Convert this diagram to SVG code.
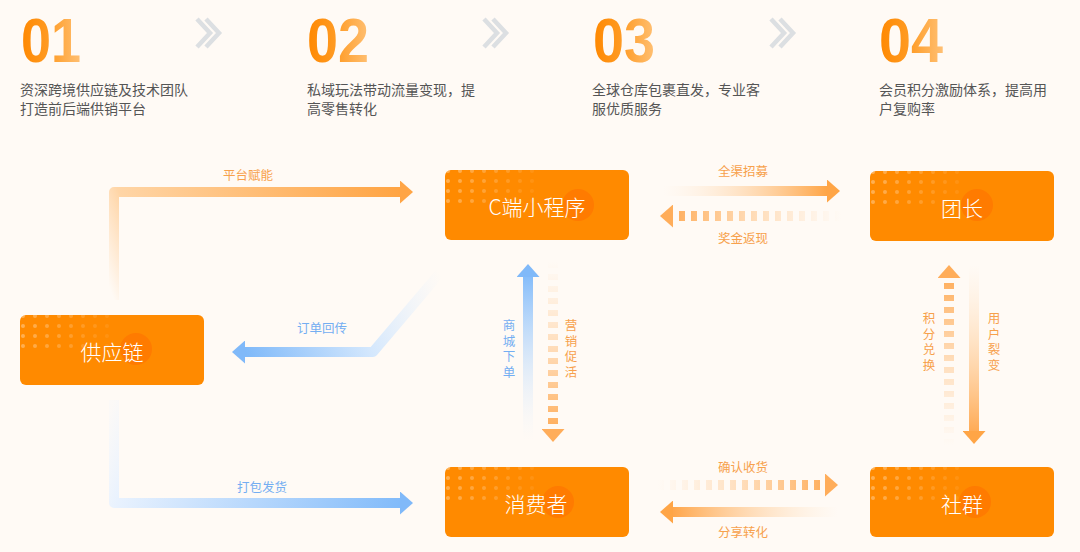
<svg xmlns="http://www.w3.org/2000/svg" xmlns:xlink="http://www.w3.org/1999/xlink" width="1080" height="552" viewBox="0 0 1080 552">
<defs>
<style>
.num{font-family:"Liberation Sans","Noto Sans CJK SC",sans-serif;font-weight:bold;font-size:63px;fill:url(#numGrad)}
.desc{font-family:"Noto Sans CJK SC","Noto Sans",sans-serif;font-size:14px;fill:#555}
.chev{fill:none;stroke:#dcdfe2;stroke-width:4.5;stroke-linejoin:miter}
.node{fill:#ff8a00}
.spot{fill:#ff7500;opacity:0.75}
.ntext{font-family:"Noto Sans CJK SC","Noto Sans",sans-serif;font-size:21px;font-weight:300;fill:#fff;text-anchor:middle}
.lbl{font-family:"Noto Sans CJK SC","Noto Sans",sans-serif;font-size:12.5px;text-anchor:middle}
.vert{writing-mode:vertical-rl;letter-spacing:3px}
.lo{fill:#f7a14c}
.lb{fill:#74aef2}
.shaft{fill:none;stroke-width:10;stroke-linejoin:round}
.dash{stroke-dasharray:6 6}
</style>
<linearGradient id="numGrad" x1="0" y1="0" x2="1" y2="0">
<stop offset="0" stop-color="#ff8800"/>
<stop offset="0.45" stop-color="#ff9a22"/>
<stop offset="1" stop-color="#ffc074"/>
</linearGradient>
<linearGradient id="dotFade" gradientUnits="userSpaceOnUse" x1="0" y1="0" x2="100" y2="20">
<stop offset="0" stop-color="#fff" stop-opacity="0.34"/>
<stop offset="1" stop-color="#fff" stop-opacity="0.03"/>
</linearGradient>
<clipPath id="dotClip"><rect x="0" y="0" width="184" height="70" rx="6"/></clipPath>
<g id="dots" clip-path="url(#dotClip)" fill="url(#dotFade)">
<circle cx="3" cy="1" r="2"/><circle cx="15" cy="1" r="2"/><circle cx="27" cy="1" r="2"/><circle cx="39" cy="1" r="2"/><circle cx="51" cy="1" r="2"/><circle cx="63" cy="1" r="2"/><circle cx="75" cy="1" r="2"/><circle cx="87" cy="1" r="2"/>
<circle cx="3" cy="11" r="2"/><circle cx="15" cy="11" r="2"/><circle cx="27" cy="11" r="2"/><circle cx="39" cy="11" r="2"/><circle cx="51" cy="11" r="2"/><circle cx="63" cy="11" r="2"/><circle cx="75" cy="11" r="2"/><circle cx="87" cy="11" r="2"/>
<circle cx="3" cy="21" r="2"/><circle cx="15" cy="21" r="2"/><circle cx="27" cy="21" r="2"/><circle cx="39" cy="21" r="2"/><circle cx="51" cy="21" r="2"/><circle cx="63" cy="21" r="2"/><circle cx="75" cy="21" r="2"/><circle cx="87" cy="21" r="2"/>
<circle cx="3" cy="31" r="2"/><circle cx="15" cy="31" r="2"/><circle cx="27" cy="31" r="2"/><circle cx="39" cy="31" r="2"/><circle cx="51" cy="31" r="2"/><circle cx="63" cy="31" r="2"/><circle cx="75" cy="31" r="2"/><circle cx="87" cy="31" r="2"/>
</g>
<marker id="headO" markerUnits="userSpaceOnUse" markerWidth="13" markerHeight="23" viewBox="0 0 13 23" refX="0" refY="11.5" orient="auto"><path d="M0,0 L13,11.5 L0,23Z" fill="#ffa546"/></marker>
<marker id="headOd" markerUnits="userSpaceOnUse" markerWidth="13" markerHeight="23" viewBox="0 0 13 23" refX="0" refY="11.5" orient="auto"><path d="M0,0 L13,11.5 L0,23Z" fill="#ffad5a"/></marker>
<marker id="headB" markerUnits="userSpaceOnUse" markerWidth="13" markerHeight="23" viewBox="0 0 13 23" refX="0" refY="11.5" orient="auto"><path d="M0,0 L13,11.5 L0,23Z" fill="#80b9f9"/></marker>
<linearGradient id="gA" gradientUnits="userSpaceOnUse" x1="114" y1="300" x2="400" y2="192"><stop offset="0" stop-color="#ffd8ae" stop-opacity="0"/><stop offset="0.14" stop-color="#ffd5a6"/><stop offset="1" stop-color="#ffa443"/></linearGradient>
<linearGradient id="gB" gradientUnits="userSpaceOnUse" x1="440" y1="273" x2="245" y2="352"><stop offset="0" stop-color="#e6f1fe" stop-opacity="0"/><stop offset="0.45" stop-color="#d3e7fd"/><stop offset="1" stop-color="#7fb9f9"/></linearGradient>
<linearGradient id="gC" gradientUnits="userSpaceOnUse" x1="114" y1="400" x2="400" y2="503"><stop offset="0" stop-color="#eef5fe" stop-opacity="0.2"/><stop offset="0.12" stop-color="#e9f2fe"/><stop offset="1" stop-color="#82bbfa"/></linearGradient>
<linearGradient id="gD" gradientUnits="userSpaceOnUse" x1="663" y1="0" x2="827" y2="0"><stop offset="0" stop-color="#ffe6cc" stop-opacity="0"/><stop offset="1" stop-color="#ffa546"/></linearGradient>
<linearGradient id="gE" gradientUnits="userSpaceOnUse" x1="841" y1="0" x2="673" y2="0"><stop offset="0" stop-color="#ffd2a2" stop-opacity="0"/><stop offset="1" stop-color="#ffae5c"/></linearGradient>
<linearGradient id="gF" gradientUnits="userSpaceOnUse" x1="0" y1="440" x2="0" y2="277"><stop offset="0" stop-color="#e4f0fe" stop-opacity="0"/><stop offset="1" stop-color="#86bdfa"/></linearGradient>
<linearGradient id="gG" gradientUnits="userSpaceOnUse" x1="0" y1="262" x2="0" y2="429"><stop offset="0" stop-color="#ffd2a2" stop-opacity="0"/><stop offset="1" stop-color="#ffae5c"/></linearGradient>
<linearGradient id="gH" gradientUnits="userSpaceOnUse" x1="0" y1="445" x2="0" y2="278"><stop offset="0" stop-color="#ffd2a2" stop-opacity="0"/><stop offset="1" stop-color="#ffae5c"/></linearGradient>
<linearGradient id="gI" gradientUnits="userSpaceOnUse" x1="0" y1="265" x2="0" y2="431"><stop offset="0" stop-color="#ffe0bd" stop-opacity="0"/><stop offset="1" stop-color="#ffab55"/></linearGradient>
<linearGradient id="gJ" gradientUnits="userSpaceOnUse" x1="658" y1="0" x2="825" y2="0"><stop offset="0" stop-color="#ffd2a2" stop-opacity="0"/><stop offset="1" stop-color="#ffae5c"/></linearGradient>
<linearGradient id="gK" gradientUnits="userSpaceOnUse" x1="838" y1="0" x2="673" y2="0"><stop offset="0" stop-color="#ffe0bd" stop-opacity="0"/><stop offset="1" stop-color="#ffa64b"/></linearGradient>
</defs>

<rect x="0" y="0" width="1080" height="552" fill="#fffaf5"/>

<g id="header">
<text class="num" x="21" y="62" textLength="60" lengthAdjust="spacingAndGlyphs">01</text>
<text class="num" x="307" y="62" textLength="62" lengthAdjust="spacingAndGlyphs">02</text>
<text class="num" x="593" y="62" textLength="62" lengthAdjust="spacingAndGlyphs">03</text>
<text class="num" x="879" y="62" textLength="64" lengthAdjust="spacingAndGlyphs">04</text>
<polyline class="chev" points="197,19 210,33 197,47"/><polyline class="chev" points="206,19 219,33 206,47"/>
<polyline class="chev" points="484,19 497,33 484,47"/><polyline class="chev" points="493,19 506,33 493,47"/>
<polyline class="chev" points="771,19 784,33 771,47"/><polyline class="chev" points="780,19 793,33 780,47"/>
<text class="desc" x="20" y="95">资深跨境供应链及技术团队</text>
<text class="desc" x="20" y="114">打造前后端供销平台</text>
<text class="desc" x="307" y="95">私域玩法带动流量变现，提</text>
<text class="desc" x="307" y="114">高零售转化</text>
<text class="desc" x="592" y="95">全球仓库包裹直发，专业客</text>
<text class="desc" x="592" y="114">服优质服务</text>
<text class="desc" x="879" y="95">会员积分激励体系，提高用</text>
<text class="desc" x="879" y="114">户复购率</text>
</g>

<g id="connectors">
<path class="shaft" d="M114,300 L114,192 L400,192" stroke="url(#gA)" marker-end="url(#headO)"/>
<text class="lbl lo" x="248" y="180">平台赋能</text>
<path class="shaft" d="M440,273 L373,352 L245,352" stroke="url(#gB)" marker-end="url(#headB)"/>
<text class="lbl lb" x="322" y="332.5">订单回传</text>
<path class="shaft" d="M114,400 L114,503 L400,503" stroke="url(#gC)" marker-end="url(#headB)"/>
<text class="lbl lb" x="262" y="491.5">打包发货</text>
<path class="shaft" d="M663,191 L827,191" stroke="url(#gD)" marker-end="url(#headO)"/>
<text class="lbl lo" x="743" y="176">全渠招募</text>
<path class="shaft dash" d="M841,216 L673,216" stroke="url(#gE)" marker-end="url(#headOd)"/>
<text class="lbl lo" x="743" y="242.5">奖金返现</text>
<path class="shaft" d="M528,440 L528,277" stroke="url(#gF)" marker-end="url(#headB)"/>
<text class="lbl lb vert" x="509" y="350">商城下单</text>
<path class="shaft dash" d="M553,262 L553,429" stroke="url(#gG)" marker-end="url(#headOd)"/>
<text class="lbl lo vert" x="571" y="350">营销促活</text>
<path class="shaft dash" d="M949,445 L949,278" stroke="url(#gH)" marker-end="url(#headOd)"/>
<text class="lbl lo vert" x="929" y="343">积分兑换</text>
<path class="shaft" d="M974,265 L974,431" stroke="url(#gI)" marker-end="url(#headO)"/>
<text class="lbl lo vert" x="994" y="343">用户裂变</text>
<path class="shaft dash" d="M658,485 L825,485" stroke="url(#gJ)" marker-end="url(#headOd)"/>
<text class="lbl lo" x="743" y="472">确认收货</text>
<path class="shaft" d="M838,512 L673,512" stroke="url(#gK)" marker-end="url(#headO)"/>
<text class="lbl lo" x="743" y="537">分享转化</text>
</g>

<g id="node-supply">
<rect class="node" x="20" y="315" width="184" height="70" rx="6"/>
<use xlink:href="#dots" href="#dots" transform="translate(20,315)"/>
<circle class="spot" cx="136" cy="349" r="16"/>
<text class="ntext" x="112" y="360">供应链</text>
</g>
<g id="node-miniapp">
<rect class="node" x="445" y="170" width="184" height="70" rx="6"/>
<use xlink:href="#dots" href="#dots" transform="translate(445,170)"/>
<circle class="spot" cx="578" cy="205" r="16"/>
<text class="ntext" x="537" y="215">C端小程序</text>
</g>
<g id="node-leader">
<rect class="node" x="870" y="171" width="184" height="70" rx="6"/>
<use xlink:href="#dots" href="#dots" transform="translate(870,171)"/>
<circle class="spot" cx="977" cy="205" r="16"/>
<text class="ntext" x="962" y="216">团长</text>
</g>
<g id="node-consumer">
<rect class="node" x="445" y="467" width="184" height="70" rx="6"/>
<use xlink:href="#dots" href="#dots" transform="translate(445,467)"/>
<circle class="spot" cx="558" cy="502" r="16"/>
<text class="ntext" x="536" y="512">消费者</text>
</g>
<g id="node-community">
<rect class="node" x="870" y="467" width="184" height="70" rx="6"/>
<use xlink:href="#dots" href="#dots" transform="translate(870,467)"/>
<circle class="spot" cx="975" cy="502" r="16"/>
<text class="ntext" x="962" y="512">社群</text>
</g>
</svg>
